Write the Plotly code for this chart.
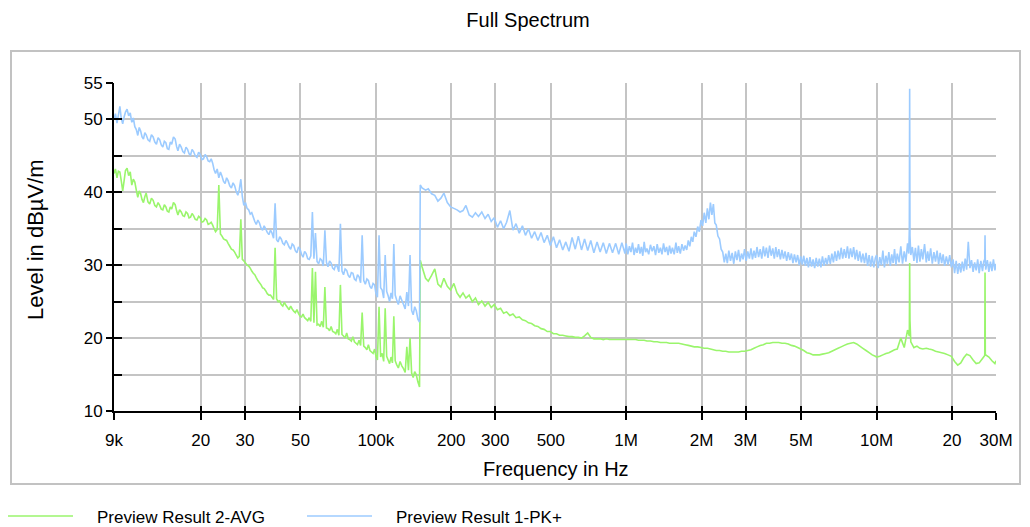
import math
import plotly.graph_objects as go

# ---------------- data (frequency in kHz, levels in dBuV/m) ----------------
# 9 kHz ... 99 kHz (both detectors)
FREQ_A = [9.0, 9.12, 9.25, 9.37, 9.5, 9.62, 9.75, 9.87, 10.0, 10.15,
          10.3, 10.45, 10.6, 10.75, 10.9, 11.05, 11.2, 11.35, 11.5, 11.65,
          11.8, 11.95, 12.1, 12.3, 12.5, 12.7, 12.9, 13.1, 13.3, 13.5,
          13.7, 13.9, 14.1, 14.3, 14.5, 14.7, 14.9, 15.1, 15.3, 15.55,
          15.8, 16.0, 16.2, 16.45, 16.7, 16.95, 17.2, 17.45, 17.7, 17.95,
          18.2, 18.45, 18.7, 19.0, 19.3, 19.6, 19.9, 20.2, 20.5, 20.8,
          21.1, 21.4, 21.7, 22.0, 22.3, 22.6, 22.9, 23.25, 23.6, 23.95,
          24.3, 24.65, 25.0, 25.35, 25.7, 26.1, 26.5, 26.9, 27.3, 27.7,
          28.1, 28.5, 28.9, 29.3, 29.7, 30.15, 30.6, 31.05, 31.5, 31.95,
          32.4, 32.85, 33.3, 33.8, 34.3, 34.8, 35.3, 35.8, 36.3, 36.85,
          37.4, 37.95, 38.5, 39.05, 39.6, 40.15, 40.7, 41.3, 41.9, 42.5,
          43.1, 43.75, 44.4, 45.05, 45.7, 46.35, 47.0, 47.7, 48.4, 49.1,
          49.8, 50.5, 51.2, 51.95, 52.7, 53.45, 54.2, 55.0, 55.8, 56.6,
          57.4, 58.25, 59.1, 59.95, 60.8, 61.7, 62.6, 63.5, 64.4, 65.35,
          66.3, 67.25, 68.2, 69.2, 70.2, 71.2, 72.2, 73.25, 74.3, 75.4,
          76.5, 77.6, 78.7, 79.85, 81.0, 82.15, 83.3, 84.5, 85.7, 86.95,
          88.2, 89.5, 90.8, 92.1, 93.4, 94.75, 96.1, 97.5, 98.9]
PK_A = [50.0, 50.8, 49.5, 50.6, 51.8, 50.2, 49.4, 50.3, 51.0, 51.4,
        50.5, 50.9, 49.6, 50.2, 49.0, 48.6, 47.8, 48.9, 48.4, 47.6,
        47.3, 48.2, 47.9, 47.2, 47.0, 47.9, 47.6, 46.9, 46.6, 47.5,
        47.2, 46.5, 46.2, 47.0, 46.8, 46.0, 45.9, 46.9, 46.6, 47.6,
        47.3, 46.3, 45.7, 46.6, 46.2, 45.6, 45.4, 46.2, 45.9, 45.3,
        45.1, 45.9, 45.6, 45.0, 44.8, 45.5, 45.2, 44.5, 44.6, 45.2,
        44.9, 44.3, 44.2, 44.6, 44.0, 43.1, 42.6, 43.2, 42.0, 42.8,
        42.2, 41.5, 41.2, 42.0, 41.6, 40.9, 40.6, 41.3, 40.9, 40.1,
        39.6, 40.4, 41.8, 39.4, 38.2, 38.6, 37.8, 37.6, 37.0, 37.2,
        36.6, 36.0, 35.6, 36.2, 35.8, 35.1, 34.8, 35.4, 35.0, 34.5,
        34.2, 34.8, 34.4, 33.7, 38.5, 33.5, 33.2, 33.9, 33.6, 33.0,
        32.8, 33.4, 33.0, 32.5, 32.2, 32.9, 32.7, 32.0, 31.7, 32.5,
        32.2, 31.5, 31.1, 31.9, 31.6, 30.9, 30.8, 31.3, 37.3, 30.9,
        34.4, 30.5, 30.2, 30.9, 30.7, 29.9, 34.8, 30.4, 29.8, 30.6,
        30.3, 29.6, 29.4, 30.1, 29.8, 29.1, 35.7, 29.2, 28.7, 29.5,
        29.3, 28.6, 28.3, 29.0, 28.9, 28.1, 27.9, 28.7, 28.4, 27.6,
        34.1, 27.9, 27.4, 28.1, 27.9, 27.1, 26.8, 27.5, 27.3]
AVG_A = [42.6, 43.2, 42.0, 42.9, 42.8, 41.6, 40.2, 41.5, 43.0, 43.3,
         42.3, 42.8, 41.0, 41.8, 41.4, 40.3, 39.3, 40.2, 39.8, 39.0,
         38.6, 39.4, 39.9, 38.7, 38.4, 39.2, 38.9, 38.2, 38.0, 38.6,
         38.2, 37.7, 37.6, 38.3, 38.0, 37.4, 37.3, 38.0, 37.7, 38.6,
         38.3, 37.5, 36.9, 37.6, 37.3, 36.8, 36.7, 37.3, 37.1, 36.5,
         36.6, 37.1, 36.8, 36.3, 36.2, 36.7, 36.5, 35.9, 36.0, 36.4,
         36.2, 35.6, 35.7, 35.9, 35.5, 35.0, 34.6, 34.9, 41.0, 34.3,
         34.0, 33.6, 33.5, 33.4, 33.0, 32.6, 32.2, 32.1, 31.8, 31.4,
         31.0, 31.2, 36.3, 30.8, 30.6, 30.3, 30.0, 29.9, 29.6, 29.2,
         28.9, 28.7, 28.3, 27.9, 27.6, 27.3, 26.9, 26.8, 26.5, 26.1,
         25.9, 25.9, 25.6, 25.3, 32.4, 25.4, 25.0, 25.1, 24.6, 24.4,
         24.9, 24.5, 24.2, 23.9, 24.4, 24.0, 23.7, 23.5, 23.9, 23.4,
         23.0, 22.9, 23.3, 22.8, 22.6, 22.4, 22.8, 22.3, 29.6, 22.1,
         29.1, 21.8, 21.9, 21.6, 22.3, 21.5, 27.0, 21.4, 21.3, 21.0,
         21.6, 20.9, 20.8, 20.6, 21.2, 20.4, 27.3, 20.5, 20.3, 20.0,
         20.7, 19.9, 19.8, 19.6, 20.2, 19.5, 19.3, 19.1, 19.7, 19.0,
         23.5, 18.9, 18.7, 18.4, 19.1, 18.3, 18.1, 17.9, 18.5]

# 100 kHz ... 153 kHz (both detectors)
FREQ_B1 = [100, 101.5, 103, 104.5, 106, 107.5, 109, 110.5, 112, 113.5,
           115, 116.5, 118, 119.5, 121, 123, 125, 127, 129, 131,
           133, 135, 137, 139, 141, 143, 145, 147.2, 149.5, 150.5, 153]
PK_B1 = [26.2, 25.6, 34.1, 26.9, 26.6, 25.5, 31.4, 26.4, 25.8, 25.0,
         26.2, 25.4, 32.9, 25.9, 25.3, 24.6, 25.8, 25.2, 24.6, 24.0,
         26.3, 24.4, 31.4, 23.8, 23.2, 24.3, 23.8, 22.6, 22.2, 41.0, 40.6]
AVG_B1 = [17.6, 17.0, 24.3, 17.4, 17.9, 16.8, 24.1, 17.5, 17.0, 16.5,
          17.4, 16.6, 23.0, 16.9, 16.4, 15.9, 16.8, 16.2, 15.8, 15.3,
          18.8, 15.6, 20.0, 15.2, 14.6, 15.4, 15.0, 14.0, 13.3, 30.7, 29.8]

# 158 kHz ... 989 kHz (both detectors)
FREQ_B2 = [158, 162, 167, 172, 177, 182, 187, 193, 199, 205,
           211, 217, 223, 229, 236, 243, 250, 257, 265, 273,
           281, 289, 297, 306, 315, 324, 333, 343, 353, 363,
           374, 385, 396, 407, 419, 431, 444, 457, 470, 484,
           498, 512, 527, 542, 558, 574, 591, 608, 626, 644,
           663, 682, 702, 722, 743, 765, 787, 810, 833, 857,
           882, 908, 934, 961, 989]
PK_B2 = [40.3, 40.5, 39.8, 39.6, 38.8, 39.2, 39.9, 38.6, 38.0, 37.8,
         37.6, 37.3, 37.5, 38.2, 36.9, 36.6, 37.2, 36.7, 37.3, 36.4,
         37.0, 36.0, 36.5, 35.2, 36.1, 35.0, 35.9, 37.5, 34.8, 35.7,
         34.4, 35.4, 34.1, 35.0, 33.7, 34.6, 33.4, 34.5, 33.1, 34.1,
         32.7, 33.9, 32.4, 33.5, 32.1, 33.2, 31.9, 33.8, 32.2, 34.0,
         32.1, 33.6, 32.0, 33.4, 31.7, 33.2, 31.8, 33.1, 31.6, 33.0,
         31.7, 33.0, 31.5, 33.1, 31.6]
AVG_B2 = [28.2, 27.8, 28.6, 29.5, 27.4, 27.0, 28.2, 27.1, 26.6, 27.5,
          26.2, 25.6, 26.2, 25.5, 25.9, 25.0, 25.5, 24.6, 25.1, 24.4,
          24.9, 24.2, 24.6, 23.9, 24.1, 23.4, 23.6, 23.1, 23.3, 22.8,
          22.9, 22.5, 22.4, 22.1, 22.0, 21.7, 21.6, 21.3, 21.2, 20.9,
          20.9, 20.6, 20.6, 20.4, 20.4, 20.3, 20.2, 20.2, 20.1, 20.1,
          20.0, 20.3, 20.7, 20.1, 19.9, 19.9, 19.9, 19.8, 19.9, 19.8,
          19.8, 19.8, 19.8, 19.8, 19.8]

# 1 MHz ... 9.89 MHz, peak detector (dense sweep)
FREQ_C_PK = [1000, 1015, 1030, 1045, 1060, 1075, 1090, 1105, 1120, 1135,
             1150, 1165, 1180, 1195, 1210, 1230, 1250, 1270, 1290, 1310,
             1330, 1350, 1370, 1390, 1410, 1430, 1450, 1470, 1490, 1510,
             1530, 1555, 1580, 1600, 1620, 1645, 1670, 1695, 1720, 1745,
             1770, 1795, 1820, 1845, 1870, 1900, 1930, 1960, 1990, 2020,
             2050, 2080, 2110, 2140, 2170, 2200, 2230, 2260, 2290, 2325,
             2360, 2395, 2430, 2465, 2500, 2535, 2570, 2610, 2650, 2690,
             2730, 2770, 2810, 2850, 2890, 2930, 2970, 3015, 3060, 3105,
             3150, 3195, 3240, 3285, 3330, 3380, 3430, 3480, 3530, 3580,
             3630, 3685, 3740, 3795, 3850, 3905, 3960, 4015, 4070, 4130,
             4190, 4250, 4310, 4375, 4440, 4505, 4570, 4635, 4700, 4770,
             4840, 4910, 4980, 5050, 5120, 5195, 5270, 5345, 5420, 5500,
             5580, 5660, 5740, 5825, 5910, 5995, 6080, 6170, 6260, 6350,
             6440, 6535, 6630, 6725, 6820, 6920, 7020, 7120, 7220, 7325,
             7430, 7540, 7650, 7760, 7870, 7985, 8100, 8215, 8330, 8450,
             8570, 8695, 8820, 8950, 9080, 9210, 9340, 9475, 9610, 9750,
             9890]
PK_C = [33.0, 31.5, 32.6, 31.8, 33.1, 31.4, 32.4, 31.7, 32.9, 31.6,
        32.5, 31.3, 33.2, 31.8, 32.3, 31.5, 32.8, 31.9, 32.6, 31.4,
        32.9, 31.7, 32.4, 31.5, 33.0, 31.8, 32.5, 31.4, 32.7, 31.6,
        32.4, 31.5, 33.1, 31.7, 32.6, 31.6, 32.9, 32.0, 32.7, 32.1,
        33.4, 32.6, 33.9, 33.2, 34.6, 33.9, 35.3, 34.6, 36.2, 35.4,
        37.2, 35.8, 37.8, 36.3, 38.6, 36.9, 38.4, 35.8, 35.5, 34.0,
        33.6, 32.2, 31.8, 30.4, 31.6, 30.3, 32.0, 30.6, 31.7, 30.2,
        31.9, 30.7, 32.1, 30.5, 31.6, 30.8, 32.2, 30.6, 31.9, 30.9,
        32.3, 30.8, 32.0, 31.0, 32.5, 31.1, 32.2, 30.9, 32.6, 31.2,
        32.4, 31.0, 32.7, 31.3, 32.3, 30.9, 32.5, 31.1, 32.2, 30.8,
        32.1, 30.9, 31.9, 30.6, 31.8, 30.7, 31.6, 30.3, 31.5, 30.4,
        31.4, 30.0, 31.2, 30.1, 31.3, 29.9, 31.0, 29.7, 31.1, 29.8,
        30.8, 29.6, 31.0, 29.8, 30.9, 29.7, 31.2, 29.9, 31.0, 30.1,
        31.4, 30.2, 31.6, 30.4, 31.9, 30.6, 32.0, 30.8, 32.4, 30.9,
        32.2, 31.0, 32.6, 30.9, 32.3, 31.1, 32.5, 30.8, 32.1, 30.6,
        31.9, 30.4, 31.6, 30.3, 31.7, 29.9, 31.4, 29.8, 31.3, 29.7,
        31.0]

# 1 MHz ... 9.89 MHz, average detector
FREQ_C_AVG = [1000, 1030, 1060, 1090, 1120, 1150, 1180, 1210, 1250, 1290,
              1330, 1370, 1410, 1450, 1490, 1530, 1580, 1620, 1670, 1720,
              1770, 1820, 1870, 1930, 1990, 2050, 2110, 2170, 2230, 2290,
              2360, 2430, 2500, 2570, 2650, 2730, 2810, 2890, 2970, 3060,
              3150, 3240, 3330, 3430, 3530, 3630, 3740, 3850, 3960, 4070,
              4190, 4310, 4440, 4570, 4700, 4840, 4980, 5120, 5270, 5420,
              5580, 5740, 5910, 6080, 6260, 6440, 6630, 6820,
              7020, 7220, 7430, 7650, 7870, 8100, 8330, 8570, 8820, 9080, 9340, 9610, 9890]
AVG_C = [19.8, 19.8, 19.8, 19.8, 19.7, 19.7, 19.7, 19.6, 19.6, 19.5,
         19.5, 19.4, 19.4, 19.4, 19.3, 19.3, 19.3, 19.3, 19.2, 19.1,
         19.0, 18.9, 18.8, 18.8, 18.7, 18.6, 18.6, 18.5, 18.4, 18.3,
         18.3, 18.2, 18.2, 18.1, 18.1, 18.1, 18.1, 18.2, 18.2, 18.3,
         18.4, 18.6, 18.8, 19.0, 19.1, 19.3, 19.3, 19.4, 19.4, 19.4,
         19.3, 19.3, 19.2, 19.0, 18.9, 18.7, 18.5, 18.3, 18.0, 17.9,
         17.7, 17.7, 17.7, 17.8, 17.9, 18.0, 18.2, 18.4,
         18.6, 18.8, 19.0, 19.2, 19.3, 19.4, 19.2, 18.9, 18.6, 18.3, 18.0, 17.7, 17.5]

# 10 MHz ... 30 MHz, peak detector (dense sweep)
FREQ_D_PK = [10000, 10150, 10300, 10450, 10600, 10750, 10900, 11050, 11200, 11350,
             11500, 11650, 11800, 11950, 12100, 12300, 12500, 12700, 12900, 13100,
             13300, 13450, 13520, 13560, 13600, 13700, 13900, 14100, 14300, 14500,
             14700, 14900, 15100, 15300, 15550, 15800, 16000, 16200, 16450, 16700,
             16950, 17200, 17450, 17700, 17950, 18200, 18450, 18700, 19000, 19300,
             19600, 19900, 20200, 20500, 20800, 21100, 21400, 21700, 22000, 22300,
             22600, 22900, 23250, 23600, 23950, 24300, 24650, 25000, 25350, 25700,
             26100, 26500, 26800, 27050, 27120, 27190, 27300, 27700, 28100, 28500,
             28900, 29300, 29700, 30000]
PK_D = [31.4, 29.6, 31.1, 30.0, 32.0, 29.7, 31.3, 30.2, 31.8, 29.9,
        31.5, 30.3, 32.2, 30.0, 31.6, 30.4, 32.6, 30.2, 31.9, 30.5,
        33.0, 31.6, 35.0, 54.2, 34.0, 31.4, 32.5, 30.6, 32.4, 30.3,
        32.7, 30.5, 32.2, 30.8, 32.9, 30.4, 31.9, 30.6, 32.3, 30.2,
        31.8, 30.5, 32.0, 30.1, 31.7, 30.3, 31.5, 29.9, 31.2, 30.1,
        31.4, 29.7, 30.8, 28.9, 30.6, 28.8, 30.3, 29.0, 30.5, 29.2,
        30.9, 29.4, 33.2, 29.6, 30.7, 29.1, 30.4, 29.3, 30.8, 28.9,
        30.6, 29.2, 30.5, 30.8, 34.1, 30.6, 29.4, 30.7, 29.1, 30.5,
        29.2, 30.8, 29.3, 30.2]

# 10 MHz ... 30 MHz, average detector
FREQ_D_AVG = [10000, 10300, 10600, 10900, 11200, 11500, 11800, 12100, 12500, 12900,
              13300, 13520, 13560, 13600, 13700,
              14100, 14500, 14900, 15300, 15800, 16200, 16700, 17200, 17700, 18200, 18700, 19300, 19900,
              20500, 21100, 21700, 22300, 22900, 23600, 24300, 25000, 25700, 26500,
              27050, 27120, 27190, 27300, 28100, 28900, 29700, 30000]
AVG_D = [17.4, 17.5, 17.7, 17.9, 18.0, 18.2, 18.4, 18.5, 20.0, 18.7,
         21.1, 20.3, 30.3, 22.4, 19.5,
         18.7, 18.9, 18.6, 18.5, 18.6, 18.5, 18.4, 18.2, 18.1, 18.0, 17.9, 17.7, 17.5,
         16.8, 16.3, 16.6, 17.3, 17.8, 17.6, 17.0, 16.5, 16.6, 17.2,
         17.6, 29.0, 17.8, 17.7, 17.4, 16.9, 16.5, 16.9]

X_TICK_KHZ = [9, 20, 30, 50, 100, 200, 300, 500, 1000, 2000, 3000, 5000, 10000, 20000, 30000]
X_TICK_TEXT = ["9k", "20", "30", "50", "100k", "200", "300", "500", "1M", "2M", "3M", "5M", "10M", "20", "30M"]
Y_LABEL_VALS = [10, 20, 30, 40, 50, 55]
Y_GRID_VALS = [10, 15, 20, 25, 30, 35, 40, 45, 50, 55]
Y_RANGE = [10, 55]
X_RANGE_HZ = [9e3, 30e6]

SERIES_NAMES = ["Preview Result 2-AVG", "Preview Result 1-PK+"]

# ---------------- figure ----------------
pk_f = [f * 1000 for f in FREQ_A + FREQ_B1 + FREQ_B2 + FREQ_C_PK + FREQ_D_PK]
pk_v = PK_A + PK_B1 + PK_B2 + PK_C + PK_D
avg_f = [f * 1000 for f in FREQ_A + FREQ_B1 + FREQ_B2 + FREQ_C_AVG + FREQ_D_AVG]
avg_v = AVG_A + AVG_B1 + AVG_B2 + AVG_C + AVG_D
x_ticks_hz = [f * 1000 for f in X_TICK_KHZ]
x_range_log = [math.log10(X_RANGE_HZ[0]), math.log10(X_RANGE_HZ[1])]

W, H = 1030, 527
OFF = 8                       # page body margin of the browser
PL, PT, PW, PH = 114, 83, 882, 328   # plot area in screen pixels
ML, MT = PL - OFF, PT - OFF
MR, MB = W - ML - PW, H - MT - PH


def px_x(p):
    return (p - PL) / PW


def px_y(p):
    return (PT + PH - p) / PH


FONT = "Arial, Liberation Sans, sans-serif"
GREEN = "#9af56c"
BLUE = "#9ccbff"
GRID = "#c4c4c4"
COLORS = [GREEN, BLUE]
LINE_W = 1.6

fig = go.Figure()
fig.add_trace(go.Scatter(x=avg_f, y=avg_v, mode="lines", name=SERIES_NAMES[0], showlegend=False,
                         line=dict(color=GREEN, width=LINE_W, simplify=False), hoverinfo="skip"))
fig.add_trace(go.Scatter(x=pk_f, y=pk_v, mode="lines", name=SERIES_NAMES[1], showlegend=False,
                         line=dict(color=BLUE, width=LINE_W, simplify=False), hoverinfo="skip"))
fig.add_trace(go.Scatter(x=[], y=[], xaxis="x2", yaxis="y2", showlegend=False, hoverinfo="skip"))

fig.update_layout(
    width=W, height=H,
    margin=dict(l=ML, r=MR, t=MT, b=MB, pad=0, autoexpand=False),
    paper_bgcolor="white", plot_bgcolor="white",
    font=dict(family=FONT, color="black", size=17),
    showlegend=False,
    title=dict(text="Full Spectrum", x=px_x(528), xref="paper", xanchor="center",
               y=1 - (20 - OFF) / H, yref="container", yanchor="middle",
               font=dict(size=20, family=FONT, color="black")),
    xaxis=dict(type="log", range=x_range_log, tickmode="array", tickvals=x_ticks_hz,
               ticktext=X_TICK_TEXT, ticks="outside", ticklen=7, tickwidth=2, tickcolor="black",
               showgrid=True, gridcolor=GRID, gridwidth=1.5, showline=True, linecolor="black",
               linewidth=2, zeroline=False, ticklabelstandoff=6, tickfont=dict(size=17)),
    xaxis2=dict(type="log", range=x_range_log, overlaying="x", anchor="y2", side="bottom",
                tickmode="array", tickvals=x_ticks_hz, ticks="inside", ticklen=5, tickwidth=2,
                tickcolor="black", showticklabels=False, showgrid=False, showline=False,
                zeroline=False),
    yaxis=dict(range=Y_RANGE, tickmode="array", tickvals=Y_GRID_VALS, ticks="inside",
               ticklen=8, tickwidth=2, tickcolor="black", showticklabels=False,
               showgrid=True, gridcolor=GRID, gridwidth=1.5, showline=True, linecolor="black",
               linewidth=2, zeroline=False),
    yaxis2=dict(range=Y_RANGE, overlaying="y", anchor="x2", side="left", tickmode="array",
                tickvals=Y_LABEL_VALS, ticks="outside", ticklen=7, tickwidth=2,
                tickcolor="black", showticklabels=True, showgrid=False, showline=False,
                zeroline=False, tickfont=dict(size=17)),
)

fig.add_annotation(text="Frequency in Hz", xref="paper", yref="paper", x=px_x(556), y=px_y(469),
                   xanchor="center", yanchor="middle", showarrow=False, font=dict(size=20))
fig.add_annotation(text="Level in dBµV/m", xref="paper", yref="paper", x=px_x(35), y=px_y(240),
                   xanchor="center", yanchor="middle", showarrow=False, textangle=-90,
                   font=dict(size=22))

# outer frame
fig.add_shape(type="rect", xref="paper", yref="paper", x0=px_x(11), x1=px_x(1020),
              y0=px_y(484), y1=px_y(51), line=dict(color="#c2c2c2", width=2), layer="below")

# legend (swatch + label for each series)
LEGEND_X = [8, 307]
LEGEND_Y = 516
for name, color, lx in zip(SERIES_NAMES, COLORS, LEGEND_X):
    fig.add_shape(type="line", xref="paper", yref="paper", x0=px_x(lx), x1=px_x(lx + 65),
                  y0=px_y(LEGEND_Y), y1=px_y(LEGEND_Y), line=dict(color=color, width=LINE_W))
    fig.add_annotation(text=name, xref="paper", yref="paper", x=px_x(lx + 87), y=px_y(LEGEND_Y + 1),
                       xanchor="left", yanchor="middle", showarrow=False,
                       font=dict(size=17, family=FONT, color="black"))

fig.write_html("out.html")
